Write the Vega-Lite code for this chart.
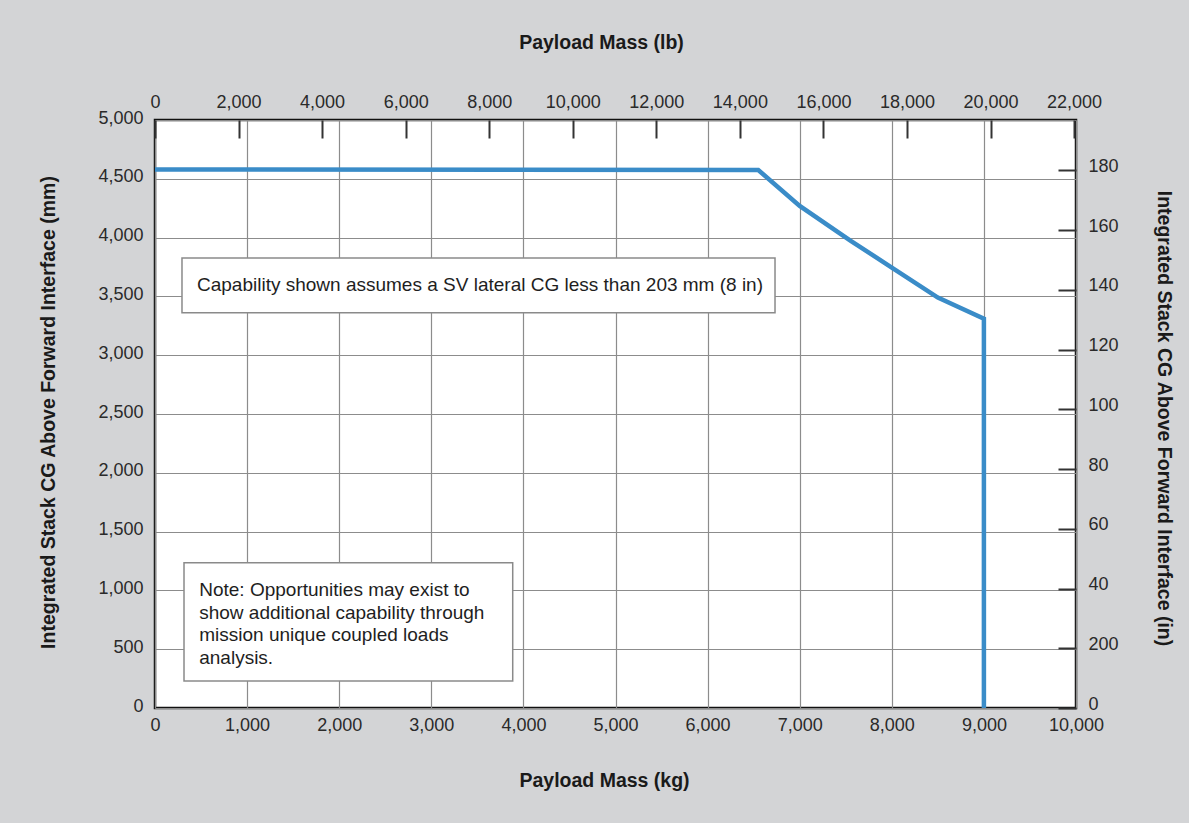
{
  "$schema": "https://vega.github.io/schema/vega-lite/v6.json",
  "width": 921,
  "height": 588,
  "autosize": {"type": "none"},
  "padding": {"left": 155, "top": 120, "right": 113, "bottom": 115},
  "background": "#d3d4d6",
  "view": {"fill": "white", "stroke": "#111111", "strokeWidth": 2.5},
  "config": {
    "font": "Liberation Sans",
    "axis": {
      "labelFont": "Liberation Sans",
      "labelFontSize": 18,
      "labelColor": "#2a2a2a",
      "titleFont": "Liberation Sans",
      "titleFontSize": 19.5,
      "titleFontWeight": "bold",
      "titleColor": "#1a1a1a",
      "domain": false,
      "labelFlush": false,
      "labelOverlap": false,
      "gridColor": "#8c8c8c",
      "gridWidth": 1.2,
      "gridOpacity": 1,
      "tickColor": "#333333",
      "tickWidth": 2
    }
  },
  "datasets": {
    "curve": [
      {"kg": 0, "mm": 4580},
      {"kg": 6550, "mm": 4575},
      {"kg": 7000, "mm": 4270},
      {"kg": 7550, "mm": 3975},
      {"kg": 8000, "mm": 3745},
      {"kg": 8500, "mm": 3490},
      {"kg": 9000, "mm": 3310},
      {"kg": 9000, "mm": 0}
    ],
    "boxes": [
      {"kg": 293, "kg2": 6732, "mm": 3827, "mm2": 3361},
      {"kg": 315, "kg2": 3884, "mm": 1236, "mm2": 230}
    ],
    "notes": [
      {"kg": 456, "mm": 3597, "label": "Capability shown assumes a SV lateral CG less than 203 mm (8 in)"},
      {"kg": 480, "mm": 1003, "label": "Note: Opportunities may exist to\nshow additional capability through\nmission unique coupled loads\nanalysis."}
    ],
    "secondary": [
      {"lb": 0, "in": 0}
    ]
  },
  "layer": [
    {
      "layer": [
        {
          "data": {"name": "boxes"},
          "mark": {"type": "rect", "fill": "white", "stroke": "#8a8a8a", "strokeWidth": 1.5},
          "encoding": {
            "x": {
              "field": "kg", "type": "quantitative",
              "scale": {"domain": [0, 10000], "nice": false, "zero": false},
              "axis": {
                "orient": "bottom",
                "values": [0, 1000, 2000, 3000, 4000, 5000, 6000, 7000, 8000, 9000, 10000],
                "format": ",.0f",
                "ticks": false,
                "tickSize": 0,
                "grid": true,
                "labelPadding": 8,
                "title": "Payload Mass (kg)",
                "titleY": 72,
                "titleX": 449,
                "titleBaseline": "middle"
              }
            },
            "x2": {"field": "kg2"},
            "y": {
              "field": "mm", "type": "quantitative",
              "scale": {"domain": [0, 5000], "nice": false, "zero": false},
              "axis": {
                "orient": "left",
                "values": [0, 500, 1000, 1500, 2000, 2500, 3000, 3500, 4000, 4500, 5000],
                "format": ",.0f",
                "ticks": false,
                "tickSize": 0,
                "grid": true,
                "labelPadding": 12,
                "labelOffset": -2,
                "title": "Integrated Stack CG Above Forward Interface (mm)",
                "titleX": -107,
                "titleY": 292,
                "titleBaseline": "middle"
              }
            },
            "y2": {"field": "mm2"}
          }
        },
        {
          "data": {"name": "notes"},
          "mark": {"type": "text", "align": "left", "baseline": "middle", "font": "Liberation Sans", "fontSize": 19, "color": "#1e1e1e", "lineBreak": "\n", "lineHeight": 22.7},
          "encoding": {
            "x": {"field": "kg", "type": "quantitative"},
            "y": {"field": "mm", "type": "quantitative"},
            "text": {"field": "label"}
          }
        },
        {
          "data": {"name": "curve"},
          "mark": {"type": "line", "color": "#3a8cc8", "strokeWidth": 4.5, "strokeJoin": "miter"},
          "encoding": {
            "x": {"field": "kg", "type": "quantitative"},
            "y": {"field": "mm", "type": "quantitative"},
            "order": {"value": null}
          }
        }
      ]
    },
    {
      "data": {"name": "secondary"},
      "mark": {"type": "point", "opacity": 0},
      "encoding": {
        "x": {
          "field": "lb", "type": "quantitative",
          "scale": {"domain": [0, 22046.2], "nice": false, "zero": false},
          "axis": {
            "orient": "top",
            "values": [0, 2000, 4000, 6000, 8000, 10000, 12000, 14000, 16000, 18000, 20000, 22000],
            "format": ",.0f",
            "grid": false,
            "tickSize": -18,
            "labelPadding": 27,
            "title": "Payload Mass (lb)",
            "titleY": -78,
            "titleX": 446,
            "titleBaseline": "middle"
          }
        },
        "y": {
          "field": "in", "type": "quantitative",
          "scale": {"domain": [0, 196.85], "nice": false, "zero": false},
          "axis": {
            "orient": "right",
            "values": [0, 20, 40, 60, 80, 100, 120, 140, 160, 180],
            "labelExpr": "datum.value == 20 ? '200' : datum.label",
            "grid": false,
            "tickSize": -18,
            "labelPadding": 30,
            "labelOffset": -4,
            "title": "Integrated Stack CG Above Forward Interface (in)",
            "titleX": 87,
            "titleY": 298,
            "titleBaseline": "middle"
          }
        }
      }
    }
  ],
  "resolve": {"scale": {"x": "independent", "y": "independent"}}
}
